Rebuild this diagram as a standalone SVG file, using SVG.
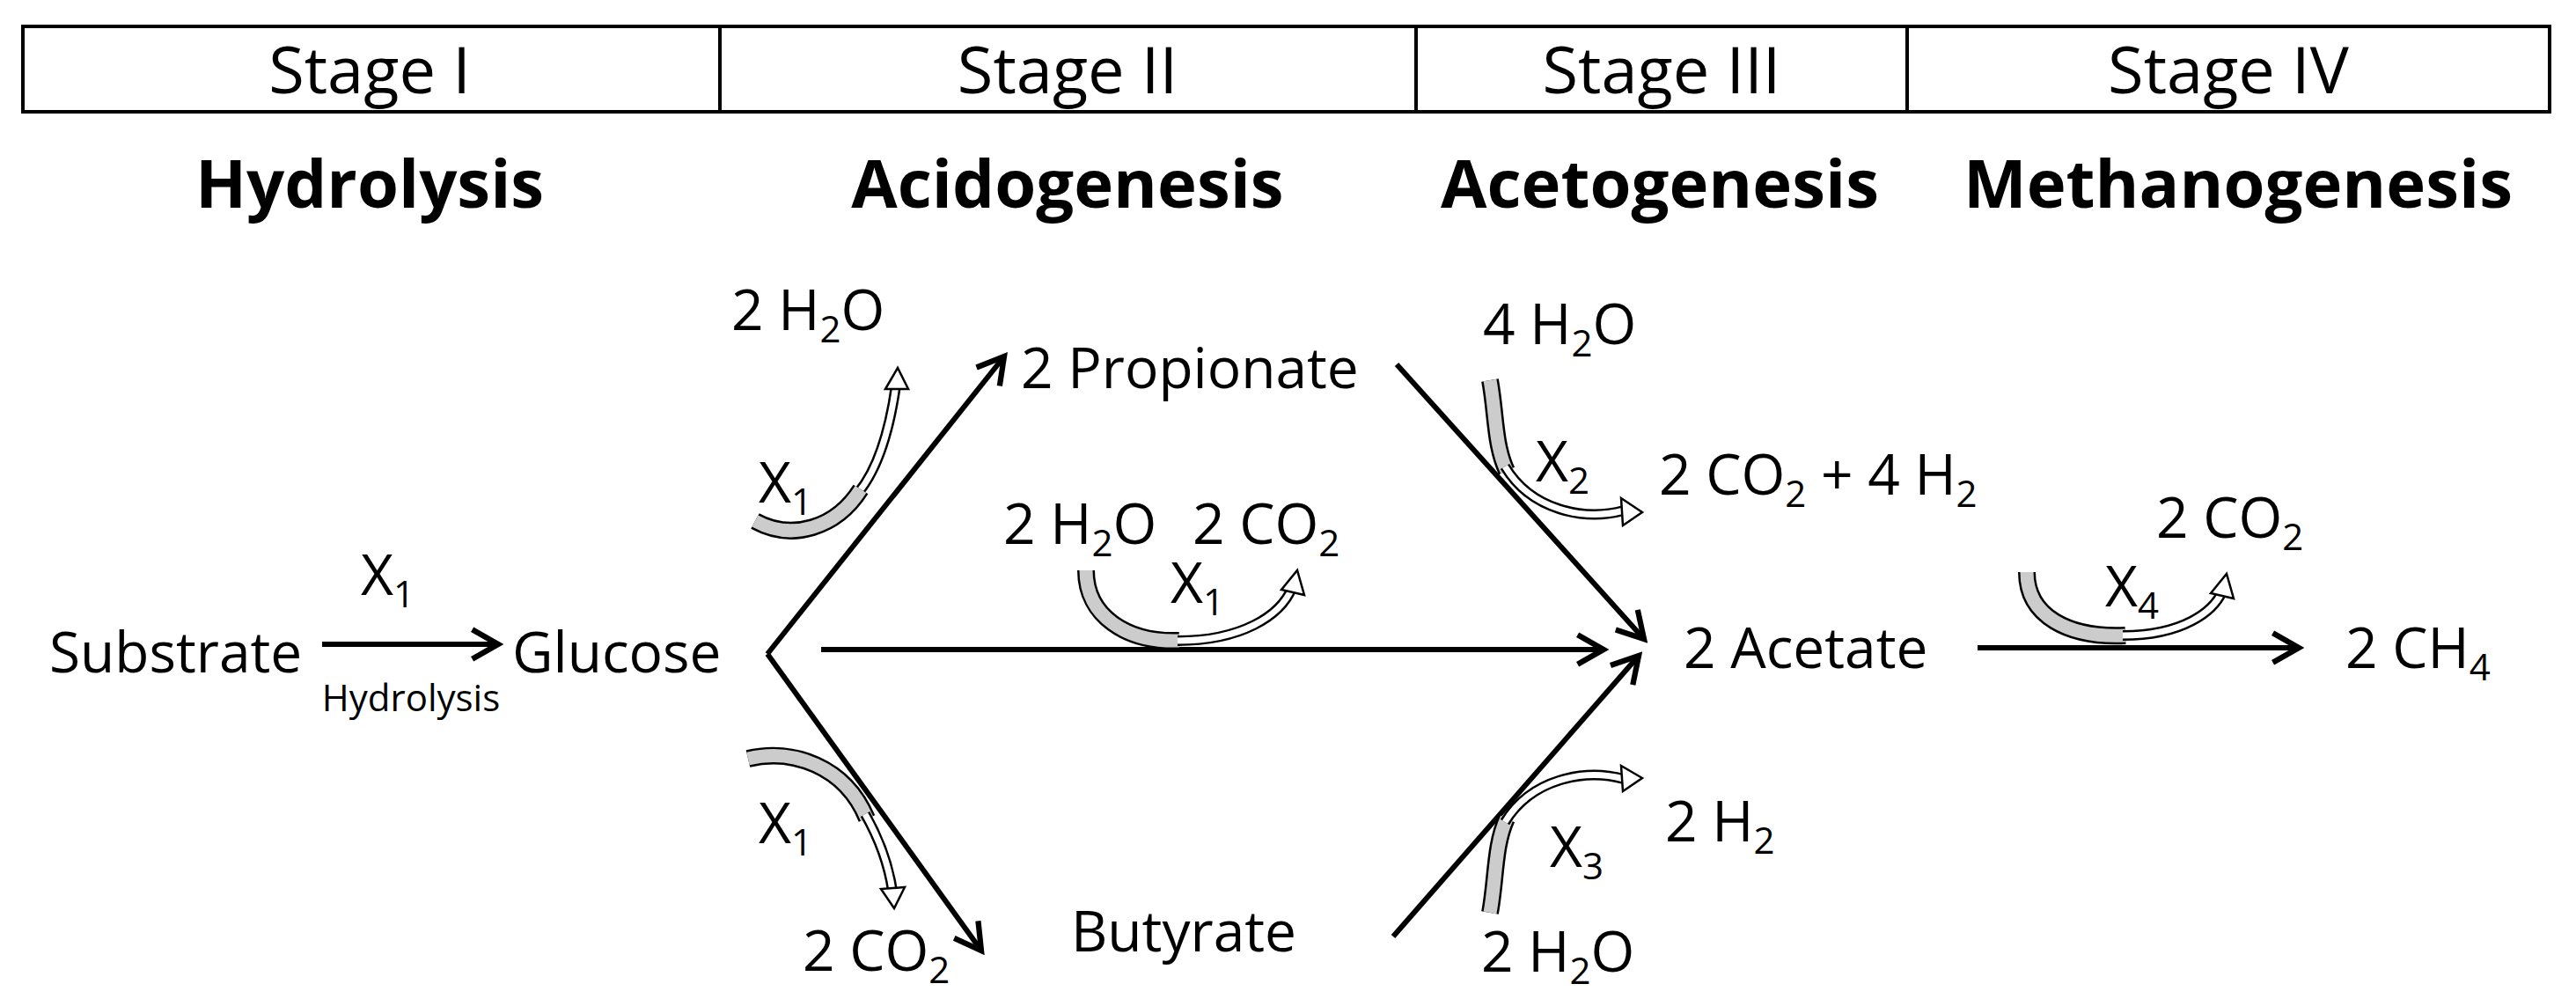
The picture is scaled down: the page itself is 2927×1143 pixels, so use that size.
<svg xmlns="http://www.w3.org/2000/svg" width="2927" height="1143" viewBox="0 0 2927 1143">
<style>
text{font-family:"Open Sans","Liberation Sans",sans-serif;font-size:64px;fill:#000}
.st{font-size:74px;text-anchor:middle}
.tt{font-size:76px;font-weight:bold;text-anchor:middle}
.sm{font-size:42px;text-anchor:middle}
.ln{stroke:#000;stroke-width:6;fill:none;marker-end:url(#ah)}
.gb{fill:none;stroke:#000;stroke-width:20}
.gi{fill:none;stroke:#ccc;stroke-width:15}
.wb{fill:none;stroke:#000;stroke-width:12}
.wi{fill:none;stroke:#fff;stroke-width:7}
.hd{fill:#fff;stroke:#000;stroke-width:2.5}
</style>
<defs>
<marker id="ah" viewBox="0 0 20 20" refX="17" refY="10" markerWidth="7" markerHeight="7" orient="auto" markerUnits="strokeWidth">
<path d="M3 2 L17 10 L3 18" fill="none" stroke="#000" stroke-width="3"/>
</marker>
</defs>
<g id="header">
<rect x="26" y="30" width="2871" height="97" fill="#fff" stroke="#000" stroke-width="4"/>
<line x1="818" y1="30" x2="818" y2="127" stroke="#000" stroke-width="4"/>
<line x1="1609" y1="30" x2="1609" y2="127" stroke="#000" stroke-width="4"/>
<line x1="2167" y1="30" x2="2167" y2="127" stroke="#000" stroke-width="4"/>
<text class="st" x="420" y="106">Stage I</text>
<text class="st" x="1213" y="106">Stage II</text>
<text class="st" x="1888" y="106">Stage III</text>
<text class="st" x="2532" y="106">Stage IV</text>
<text class="tt" x="420" y="236">Hydrolysis</text>
<text class="tt" x="1213" y="236">Acidogenesis</text>
<text class="tt" x="1886" y="236">Acetogenesis</text>
<text class="tt" x="2543" y="236">Methanogenesis</text>
</g>
<g id="connectors">
<line class="ln" x1="366" y1="732" x2="566" y2="732"/>
<line class="ln" x1="872" y1="743" x2="1141" y2="405"/>
<line class="ln" x1="872" y1="743" x2="1115" y2="1080"/>
<line class="ln" x1="933" y1="738" x2="1822" y2="738"/>
<line class="ln" x1="1587" y1="414" x2="1868" y2="726"/>
<line class="ln" x1="1583" y1="1064" x2="1862" y2="745"/>
<line class="ln" x1="2247" y1="736" x2="2612" y2="736"/>
</g>
<g id="curves">
<path class="wb" d="M975 560 C1000 530 1012 480 1018 438"/><path class="wi" d="M975 560 C1000 530 1012 480 1018 438"/>
<path class="hd" d="M1006 442 L1020 418 L1032 442 Z"/>
<path class="gb" d="M858 592 C900 615 950 600 978 556"/><path class="gi" d="M858 592 C900 615 950 600 978 556"/>
<path class="gb" d="M850 862 C900 850 960 870 985 930"/><path class="gi" d="M850 862 C900 850 960 870 985 930"/>
<path class="wb" d="M983 925 C1000 955 1010 985 1014 1012"/><path class="wi" d="M983 925 C1000 955 1010 985 1014 1012"/>
<path class="hd" d="M1001 1010 L1016 1032 L1028 1008 Z"/>
<path class="gb" d="M1234 648 C1234 700 1280 730 1340 728"/><path class="gi" d="M1234 648 C1234 700 1280 730 1340 728"/>
<path class="wb" d="M1338 728 C1410 728 1455 700 1468 668"/><path class="wi" d="M1338 728 C1410 728 1455 700 1468 668"/>
<path class="hd" d="M1456 670 L1474 648 L1482 676 Z"/>
<path class="gb" d="M1693 432 C1700 470 1698 505 1712 535"/><path class="gi" d="M1693 432 C1700 470 1698 505 1712 535"/>
<path class="wb" d="M1710 530 C1740 580 1800 592 1845 580"/><path class="wi" d="M1710 530 C1740 580 1800 592 1845 580"/>
<path class="hd" d="M1842 566 L1866 582 L1844 597 Z"/>
<path class="gb" d="M1693 1037 C1700 1000 1698 960 1712 930"/><path class="gi" d="M1693 1037 C1700 1000 1698 960 1712 930"/>
<path class="wb" d="M1710 934 C1740 885 1800 873 1845 885"/><path class="wi" d="M1710 934 C1740 885 1800 873 1845 885"/>
<path class="hd" d="M1842 870 L1866 884 L1844 899 Z"/>
<path class="gb" d="M2303 650 C2303 700 2350 725 2415 722"/><path class="gi" d="M2303 650 C2303 700 2350 725 2415 722"/>
<path class="wb" d="M2412 722 C2480 722 2515 695 2525 672"/><path class="wi" d="M2412 722 C2480 722 2515 695 2525 672"/>
<path class="hd" d="M2512 674 L2530 652 L2538 680 Z"/>
</g>
<g id="substrate"><text x="56" y="764">Substrate</text></g>
<g id="hyd-label"><text x="410" y="676">X<tspan font-size="42" dy="14">1</tspan></text><text class="sm" x="467" y="808">Hydrolysis</text></g>
<g id="glucose"><text x="582" y="764">Glucose</text></g>
<g id="propionate"><text x="1160" y="441">2 Propionate</text></g>
<g id="butyrate"><text x="1217" y="1081">Butyrate</text></g>
<g id="acetate"><text x="1913" y="759">2 Acetate</text></g>
<g id="methane"><text x="2665" y="759">2 CH<tspan font-size="42" dy="14">4</tspan></text></g>
<g id="labels">
<text x="831" y="375">2 H<tspan font-size="42" dy="14">2</tspan><tspan dy="-14">O</tspan></text>
<text x="862" y="571">X<tspan font-size="42" dy="14">1</tspan></text>
<text x="862" y="958">X<tspan font-size="42" dy="14">1</tspan></text>
<text x="912" y="1103">2 CO<tspan font-size="42" dy="14">2</tspan></text>
<text x="1140" y="618">2 H<tspan font-size="42" dy="14">2</tspan><tspan dy="-14">O</tspan></text>
<text x="1355" y="618">2 CO<tspan font-size="42" dy="14">2</tspan></text>
<text x="1330" y="685">X<tspan font-size="42" dy="14">1</tspan></text>
<text x="1685" y="391">4 H<tspan font-size="42" dy="14">2</tspan><tspan dy="-14">O</tspan></text>
<text x="1745" y="547">X<tspan font-size="42" dy="14">2</tspan></text>
<text x="1885" y="562">2 CO<tspan font-size="42" dy="14">2</tspan><tspan dy="-14"> + 4 H</tspan><tspan font-size="42" dy="14">2</tspan></text>
<text x="2450" y="611">2 CO<tspan font-size="42" dy="14">2</tspan></text>
<text x="2392" y="689">X<tspan font-size="42" dy="14">4</tspan></text>
<text x="1892" y="956">2 H<tspan font-size="42" dy="14">2</tspan></text>
<text x="1761" y="985">X<tspan font-size="42" dy="14">3</tspan></text>
<text x="1683" y="1104">2 H<tspan font-size="42" dy="14">2</tspan><tspan dy="-14">O</tspan></text>
</g>
</svg>
